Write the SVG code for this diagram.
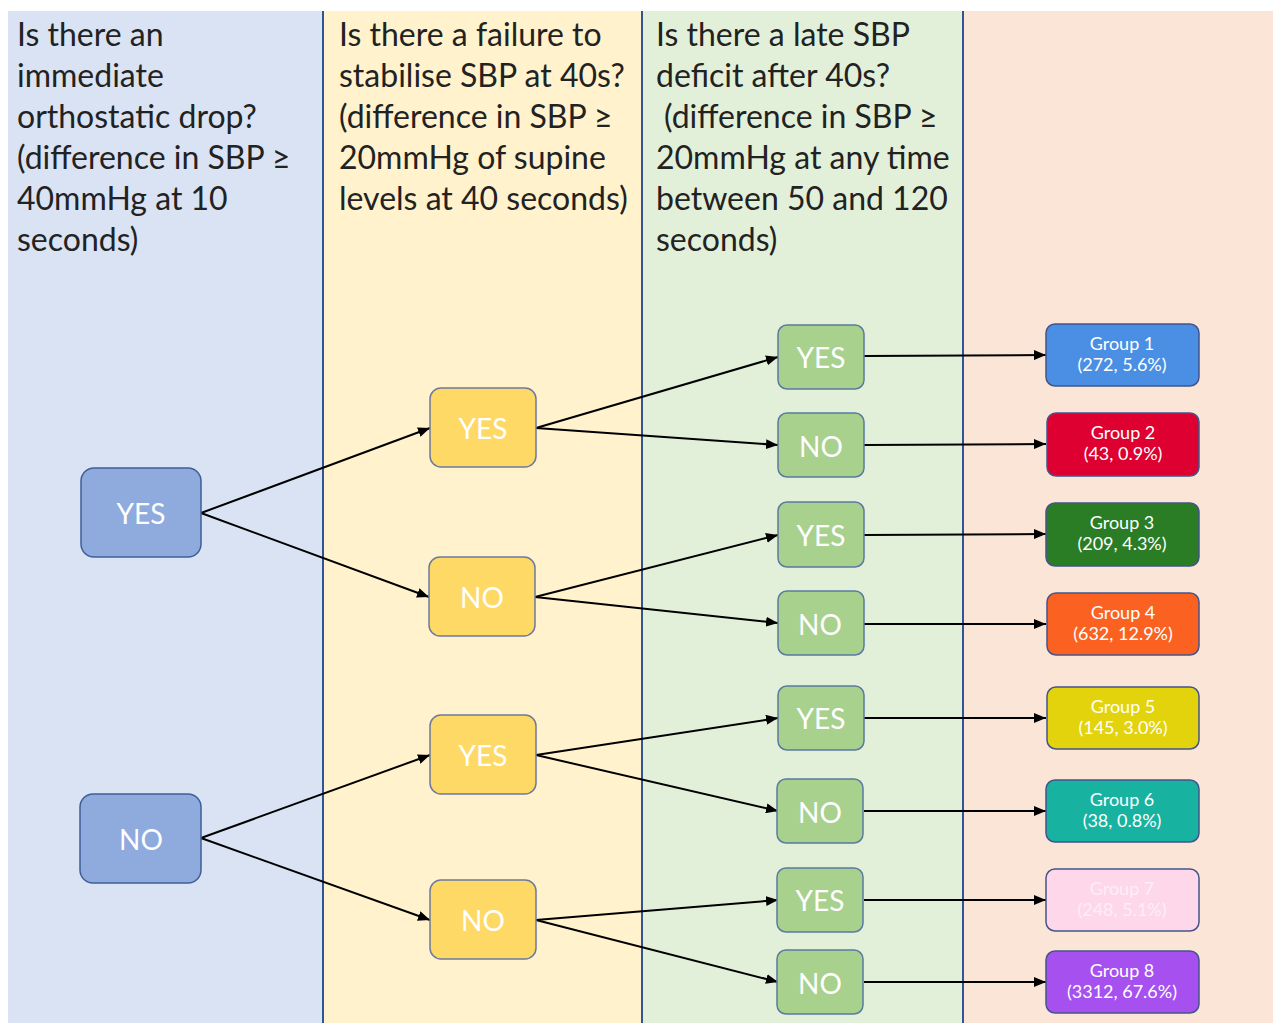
<svg xmlns="http://www.w3.org/2000/svg" width="1273" height="1023" viewBox="0 0 1273 1023">
<defs>
<marker id="ah" viewBox="0 0 12 10" refX="12" refY="5" markerWidth="12" markerHeight="10" markerUnits="userSpaceOnUse" orient="auto">
<path d="M0,0 L12,5 L0,10 z" fill="#000"/>
</marker>
<style>
.hdr{font-family:Lato,"Liberation Sans",sans-serif;font-size:32px;fill:#222}
.n1{fill:#8faadc;stroke:#3f5f96;stroke-width:1.5}
.n2{fill:#ffd966;stroke:#6c7aa0;stroke-width:1.5}
.n3{fill:#a9d18e;stroke:#5a7aa0;stroke-width:1.5}
.g{stroke:#44548a;stroke-width:1.5}
.nt{font-family:Lato,"Liberation Sans",sans-serif;font-size:28px;fill:#fff;text-anchor:middle}
.gt{font-family:Lato,"Liberation Sans",sans-serif;font-size:18px;fill:#fff;text-anchor:middle}
.c{stroke:#000;stroke-width:2;fill:none;marker-end:url(#ah)}
.div{stroke:#2f5597;stroke-width:2}
</style>
</defs>
<rect x="0" y="0" width="1273" height="1023" fill="#fff"/>
<rect x="8" y="11" width="315" height="1012" fill="#dae3f3"/>
<rect x="323" y="11" width="319" height="1012" fill="#fff2cc"/>
<rect x="642" y="11" width="321" height="1012" fill="#e2f0d9"/>
<rect x="963" y="11" width="310" height="1012" fill="#fbe5d6"/>
<line class="div" x1="323" y1="11" x2="323" y2="1023"/>
<line class="div" x1="642" y1="11" x2="642" y2="1023"/>
<line class="div" x1="963" y1="11" x2="963" y2="1023"/>
<g id="header1" class="hdr">
<text x="17" y="46">Is there an</text>
<text x="17" y="87">immediate</text>
<text x="17" y="128">orthostatic drop?</text>
<text x="17" y="169">(difference in SBP ≥</text>
<text x="17" y="210">40mmHg at 10</text>
<text x="17" y="251">seconds)</text>
</g>
<g id="header2" class="hdr">
<text x="339" y="46">Is there a failure to</text>
<text x="339" y="87">stabilise SBP at 40s?</text>
<text x="339" y="128">(difference in SBP ≥</text>
<text x="339" y="169">20mmHg of supine</text>
<text x="339" y="210">levels at 40 seconds)</text>
</g>
<g id="header3" class="hdr">
<text x="656" y="46">Is there a late SBP</text>
<text x="656" y="87">deficit after 40s?</text>
<text x="664" y="128">(difference in SBP ≥</text>
<text x="656" y="169">20mmHg at any time</text>
<text x="656" y="210">between 50 and 120</text>
<text x="656" y="251">seconds)</text>
</g>
<g id="connectors">
<line class="c" x1="201" y1="513" x2="430" y2="428"/>
<line class="c" x1="201" y1="513" x2="429" y2="597"/>
<line class="c" x1="201" y1="838" x2="430" y2="755"/>
<line class="c" x1="201" y1="838" x2="430" y2="920"/>
<line class="c" x1="536" y1="428" x2="778" y2="357"/>
<line class="c" x1="536" y1="428" x2="778" y2="445"/>
<line class="c" x1="535" y1="597" x2="778" y2="535"/>
<line class="c" x1="535" y1="597" x2="778" y2="623"/>
<line class="c" x1="536" y1="755" x2="778" y2="718"/>
<line class="c" x1="536" y1="755" x2="778" y2="811"/>
<line class="c" x1="536" y1="920" x2="778" y2="900"/>
<line class="c" x1="536" y1="920" x2="778" y2="982"/>
<line class="c" x1="864" y1="356" x2="1046" y2="355"/>
<line class="c" x1="864" y1="445" x2="1046" y2="444"/>
<line class="c" x1="864" y1="535" x2="1046" y2="534"/>
<line class="c" x1="864" y1="624" x2="1046" y2="624"/>
<line class="c" x1="864" y1="718" x2="1046" y2="718"/>
<line class="c" x1="864" y1="811" x2="1046" y2="811"/>
<line class="c" x1="864" y1="900" x2="1046" y2="900"/>
<line class="c" x1="864" y1="982" x2="1046" y2="982"/>
</g>
<g id="q1-yes"><rect class="n1" x="81" y="468" width="120" height="89" rx="13"/><text class="nt" x="141" y="524">YES</text></g>
<g id="q1-no"><rect class="n1" x="80" y="794" width="121" height="89" rx="13"/><text class="nt" x="141" y="850">NO</text></g>
<g id="q2-yes1"><rect class="n2" x="430" y="388" width="106" height="79" rx="11"/><text class="nt" x="483" y="439">YES</text></g>
<g id="q2-no1"><rect class="n2" x="429" y="557" width="106" height="79" rx="11"/><text class="nt" x="482" y="608">NO</text></g>
<g id="q2-yes2"><rect class="n2" x="430" y="715" width="106" height="79" rx="11"/><text class="nt" x="483" y="766">YES</text></g>
<g id="q2-no2"><rect class="n2" x="430" y="880" width="106" height="79" rx="11"/><text class="nt" x="483" y="931">NO</text></g>
<g id="q3-yes1"><rect class="n3" x="778" y="325" width="86" height="64" rx="9"/><text class="nt" x="821" y="368">YES</text></g>
<g id="q3-no1"><rect class="n3" x="778" y="413" width="86" height="64" rx="9"/><text class="nt" x="821" y="457">NO</text></g>
<g id="q3-yes2"><rect class="n3" x="778" y="502" width="86" height="65" rx="9"/><text class="nt" x="821" y="546">YES</text></g>
<g id="q3-no2"><rect class="n3" x="778" y="591" width="86" height="64" rx="9"/><text class="nt" x="820" y="635">NO</text></g>
<g id="q3-yes3"><rect class="n3" x="778" y="686" width="86" height="64" rx="9"/><text class="nt" x="821" y="729">YES</text></g>
<g id="q3-no3"><rect class="n3" x="777" y="779" width="86" height="64" rx="9"/><text class="nt" x="820" y="823">NO</text></g>
<g id="q3-yes4"><rect class="n3" x="777" y="868" width="86" height="64" rx="9"/><text class="nt" x="820" y="911">YES</text></g>
<g id="q3-no4"><rect class="n3" x="777" y="950" width="86" height="64" rx="9"/><text class="nt" x="820" y="994">NO</text></g>
<g id="group1"><rect class="g" x="1046" y="324" width="153" height="62" rx="9" fill="#4a8fe3"/><text class="gt" x="1122" y="350">Group 1</text><text class="gt" x="1122" y="371">(272, 5.6%)</text></g>
<g id="group2"><rect class="g" x="1047" y="413" width="152" height="63" rx="9" fill="#dd0030"/><text class="gt" x="1123" y="439">Group 2</text><text class="gt" x="1123" y="460">(43, 0.9%)</text></g>
<g id="group3"><rect class="g" x="1046" y="503" width="153" height="63" rx="9" fill="#2a7d25"/><text class="gt" x="1122" y="529">Group 3</text><text class="gt" x="1122" y="550">(209, 4.3%)</text></g>
<g id="group4"><rect class="g" x="1047" y="593" width="152" height="62" rx="9" fill="#fb6221"/><text class="gt" x="1123" y="619">Group 4</text><text class="gt" x="1123" y="640">(632, 12.9%)</text></g>
<g id="group5"><rect class="g" x="1047" y="687" width="152" height="62" rx="9" fill="#e3d30c"/><text class="gt" x="1123" y="713">Group 5</text><text class="gt" x="1123" y="734">(145, 3.0%)</text></g>
<g id="group6"><rect class="g" x="1046" y="780" width="153" height="62" rx="9" fill="#17b3a0"/><text class="gt" x="1122" y="806">Group 6</text><text class="gt" x="1122" y="827">(38, 0.8%)</text></g>
<g id="group7"><rect class="g" x="1046" y="869" width="153" height="62" rx="9" fill="#ffd7ea"/><text class="gt" x="1122" y="895" style="fill:#fdeef6">Group 7</text><text class="gt" x="1122" y="916" style="fill:#fdeef6">(248, 5.1%)</text></g>
<g id="group8"><rect class="g" x="1046" y="951" width="153" height="62" rx="9" fill="#a650f0"/><text class="gt" x="1122" y="977">Group 8</text><text class="gt" x="1122" y="998">(3312, 67.6%)</text></g>
</svg>
